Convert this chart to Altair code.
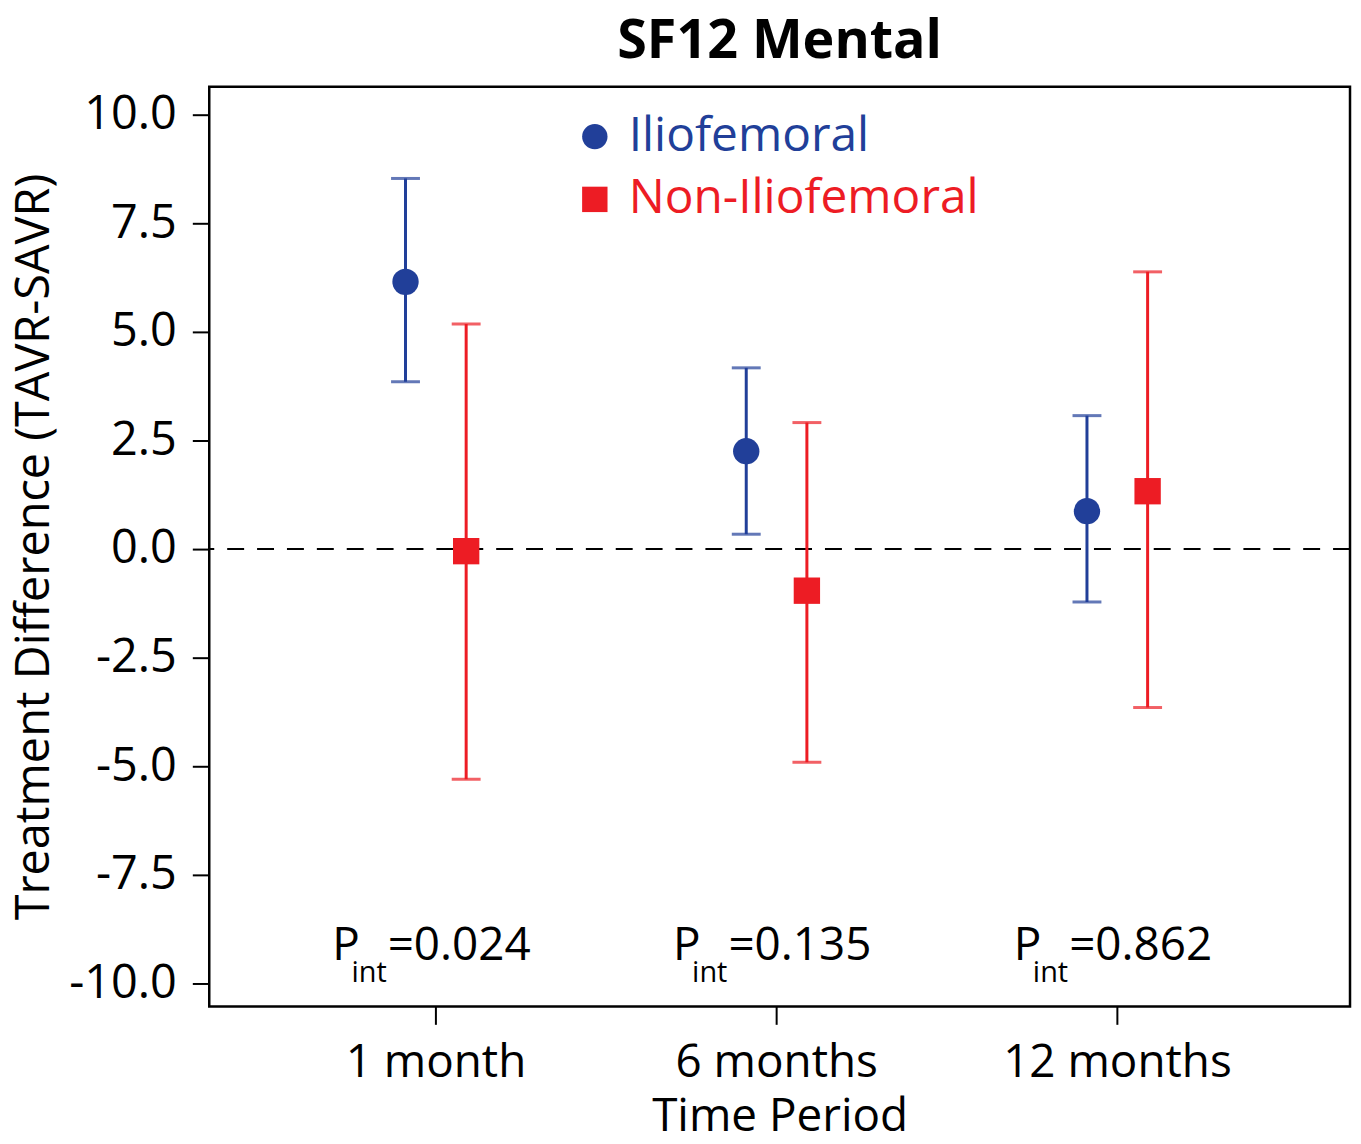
import altair as alt
import pandas as pd

periods = ["1 month", "6 months", "12 months"]
period_index = [1, 2, 3]
series_names = ["Iliofemoral", "Non-Iliofemoral"]
ilio_mean = [6.15, 2.25, 0.87]
ilio_low = [3.85, 0.34, -1.22]
ilio_high = [8.53, 4.17, 3.07]
non_mean = [-0.05, -0.96, 1.33]
non_low = [-5.30, -4.91, -3.65]
non_high = [5.18, 2.91, 6.38]
p_values = ["0.024", "0.135", "0.862"]

rows = []
for i, p in enumerate(periods):
    rows.append(dict(period=p, t=period_index[i], series=series_names[0],
                     mean=ilio_mean[i], low=ilio_low[i], high=ilio_high[i]))
    rows.append(dict(period=p, t=period_index[i], series=series_names[1],
                     mean=non_mean[i], low=non_low[i], high=non_high[i]))
df = pd.DataFrame(rows)
pdf = pd.DataFrame({"t": period_index, "p": ["=" + v for v in p_values]})
zdf = pd.DataFrame({"y": [0.0]})

BLUE = "#213f99"
RED = "#ed1c24"
FONT = "Open Sans"

x_scale = alt.Scale(domain=[0.336, 3.684], nice=False, zero=False)
y_scale = alt.Scale(domain=[-10.53, 10.64], nice=False, zero=False)
color_scale = alt.Scale(domain=series_names, range=[BLUE, RED])
shape_scale = alt.Scale(domain=series_names, range=["circle", "square"])

label_js = "[" + ",".join("'" + p + "'" for p in periods) + "]"
x_axis = alt.Axis(
    values=period_index, labelExpr=label_js + "[datum.value - 1]",
    title="Time Period", titleFontSize=46, titleFont=FONT, titleFontWeight="normal",
    titleColor="black", titlePadding=10,
    labelFontSize=46, labelFont=FONT, labelColor="black", labelPadding=16,
    labelLimit=0, labelOverlap=False, labelBound=False, labelFlush=False,
    tickSize=18, tickWidth=2, tickColor="black", domain=False, grid=False,
)
y_axis = alt.Axis(
    values=[-10, -7.5, -5, -2.5, 0, 2.5, 5, 7.5, 10],
    labelExpr="(datum.value < 0 ? '-' : '') + format(abs(datum.value), '.1f')",
    title="Treatment Difference (TAVR-SAVR)", titleFontSize=47, titleFont=FONT,
    titleFontWeight="normal", titleColor="black", titlePadding=10,
    labelFontSize=47, labelFont=FONT, labelColor="black", labelPadding=16,
    labelLimit=0, labelOverlap=False, labelBound=False, labelFlush=False,
    tickSize=17, tickWidth=2, tickColor="black", domain=False, grid=False,
)

legend = alt.Legend(
    title=None, orient="none", legendX=363, legendY=26,
    symbolSize=650, symbolStrokeWidth=0, symbolOpacity=1,
    labelFontSize=48, labelFont=FONT, labelOffset=10, rowPadding=15, padding=0,
    labelLimit=0,
    labelColor=alt.ExprRef(expr="datum.value == 'Iliofemoral' ? '" + BLUE + "' : '" + RED + "'"),
)

base = alt.Chart(df).transform_calculate(
    xpos="datum.t + (datum.series == 'Iliofemoral' ? -0.088 : 0.09)"
)
X = alt.X("xpos:Q", scale=x_scale, axis=x_axis)
COLOR = alt.Color("series:N", scale=color_scale, legend=legend)
SHAPE = alt.Shape("series:N", scale=shape_scale, legend=legend)

zero_line = alt.Chart(zdf).mark_rule(
    color="black", strokeWidth=2, strokeDash=[17, 13]
).encode(y=alt.Y("y:Q", scale=y_scale, axis=y_axis))

bars = base.mark_rule(strokeWidth=3).encode(
    x=X, y=alt.Y("low:Q", scale=y_scale, axis=y_axis), y2="high:Q", color=COLOR
)
cap_low = base.mark_tick(orient="horizontal", size=29, thickness=3).encode(
    x=X, y=alt.Y("low:Q", scale=y_scale), color=COLOR
)
cap_high = base.mark_tick(orient="horizontal", size=29, thickness=3).encode(
    x=X, y=alt.Y("high:Q", scale=y_scale), color=COLOR
)
points = base.mark_point(filled=True, size=700, opacity=1, strokeWidth=0).encode(
    x=X, y=alt.Y("mean:Q", scale=y_scale), color=COLOR, shape=SHAPE,
)

PX = alt.X("t:Q", scale=x_scale)
PY = alt.datum(-9.47, scale=y_scale)
p_main = alt.Chart(pdf).mark_text(
    text="P", align="right", baseline="alphabetic", fontSize=46, font=FONT,
    color="black", dx=-76
).encode(x=PX, y=PY)
p_sub = alt.Chart(pdf).mark_text(
    text="int", align="right", baseline="alphabetic", fontSize=29, font=FONT,
    color="black", dx=-49, dy=22
).encode(x=PX, y=PY)
p_val = alt.Chart(pdf).mark_text(
    align="left", baseline="alphabetic", fontSize=46, font=FONT,
    color="black", dx=-48
).encode(x=PX, y=PY, text="p:N")

chart = alt.layer(
    zero_line, bars, cap_low, cap_high, points, p_main, p_sub, p_val
).properties(
    width=1145, height=923,
    title=alt.TitleParams("SF12 Mental", fontSize=54, font=FONT, fontWeight="bold",
                          color="black", anchor="middle", offset=18),
    autosize=alt.AutoSizeParams(type="none"),
    padding={"left": 202, "top": 77, "right": 3, "bottom": 128},
).configure_view(
    stroke="black", strokeWidth=2.5
)

chart.save("out.html", embed_options={"renderer": "svg", "actions": False})
